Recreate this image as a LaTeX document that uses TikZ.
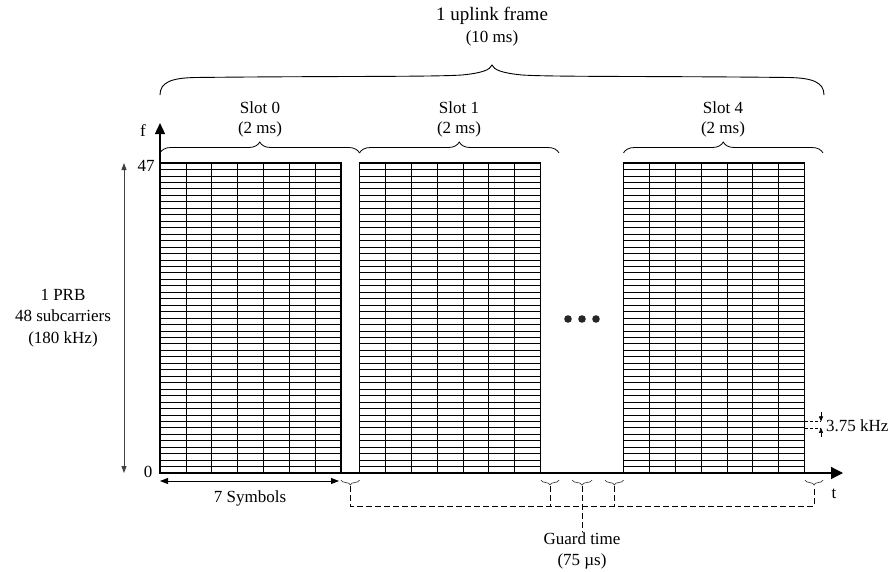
\documentclass[tikz,border=0pt]{standalone}
\usepackage{fontspec}
\setmainfont{Liberation Serif}
\usetikzlibrary{arrows.meta,decorations.pathreplacing}
\begin{document}
\begin{tikzpicture}[x=1pt,y=-1pt,
  lbl/.style={font=\fontsize{17}{21.7}\selectfont, inner sep=0pt, align=center},
  biglbl/.style={font=\fontsize{19}{22}\selectfont, inner sep=0pt, align=center},
  gridline/.style={line width=0.7pt},
  gridframe/.style={line width=1.8pt},
  axis/.style={line width=1.3pt},
  slotbrace/.style={line width=0.8pt, decorate, decoration={brace, amplitude=11pt}},
  framebrace/.style={line width=0.9pt},
  guardbrace/.style={line width=0.7pt, black!75, decorate, decoration={brace, amplitude=5pt, mirror}},
  guard/.style={line width=0.8pt, dash pattern=on 6pt off 3pt},
  dimarrow/.style={line width=0.9pt, {Triangle[length=8pt,width=6pt]}-{Triangle[length=8pt,width=6pt]}},
]
\useasboundingbox (0,0) rectangle (892,571);

% resource grids
\foreach \gx in {160,359.5,623.5} {
  \foreach \k in {1,...,47} \draw[gridline] (\gx,163+\k*310/48) -- ++(181,0);
  \foreach \k in {1,...,6} \draw[gridline] (\gx+\k*181/7,163) -- ++(0,310);
  \draw[gridframe] (\gx,163) rectangle ++(181,310);
}

% axes
\coordinate (O) at (160,473);
\coordinate (ftip) at (160,123);
\coordinate (ttip) at (843,473);
\draw[axis,-{Triangle[length=11pt,width=10pt]}] (O) -- (ftip);
\draw[axis,-{Triangle[length=12pt,width=12pt]}] (O) -- (ttip);
\node[lbl] (flab) at (143,131) {f};
\node[lbl] (tlab) at (834,494) {t};
\node[lbl] (n47) at (146,166) {47};
\node[lbl] (n0) at (148,472) {0};

% frame brace
\draw[framebrace] (160,95) .. controls (160,82) and (172,78) .. (195,77.5)
  .. controls (330,76) and (430,77) .. (462,75)
  .. controls (482,73) and (490,70) .. (492,65)
  .. controls (494,70) and (502,73) .. (522,75)
  .. controls (554,77) and (654,76) .. (789,77.5)
  .. controls (812,78) and (824,82) .. (824,95);
\node[biglbl] (frame) at (492,16) {1 uplink frame};
\node[lbl] (framems) at (492,38) {(10 ms)};

% slot braces
\coordinate (s0a) at (160,153); \coordinate (s0b) at (359.5,153);
\coordinate (s1b) at (559,153);
\coordinate (s4a) at (623.5,153); \coordinate (s4b) at (823,153);
\draw[slotbrace] (s0a) -- (s0b);
\draw[slotbrace] (s0b) -- (s1b);
\draw[slotbrace] (s4a) -- (s4b);
\node[lbl] (slot0) at (260,108) {Slot 0};
\node[lbl] (slot0ms) at (260,129) {(2 ms)};
\node[lbl] (slot1) at (459,108) {Slot 1};
\node[lbl] (slot1ms) at (459,129) {(2 ms)};
\node[lbl] (slot4) at (723,108) {Slot 4};
\node[lbl] (slot4ms) at (723,129) {(2 ms)};

% ellipsis
\foreach \dx in {568,582,596} \fill[black!85] (\dx,319) circle (3.8pt);

% PRB dimension
\coordinate (prbtop) at (124,163);
\coordinate (prbbot) at (124,473);
\draw[line width=0.9pt, black!75, {Triangle[length=7pt,width=5pt]}-{Triangle[length=7pt,width=5pt]}] (prbtop) -- (prbbot);
\node[lbl] (prb) at (63,318) {1 PRB\\48 subcarriers\\(180 kHz)};

% 7 symbols
\coordinate (sya) at (160,481);
\coordinate (syb) at (339,481);
\draw[dimarrow] (sya) -- (syb);
\node[lbl] (sym) at (250,498) {7 Symbols};

% subcarrier spacing
\coordinate (ka) at (805,421.4); \coordinate (kb) at (805,427.9);
\coordinate (kae) at (821,421.4); \coordinate (kbe) at (821,427.9);
\coordinate (kat) at (821,412); \coordinate (kbt) at (821,437);
\draw[line width=0.6pt, dash pattern=on 3pt off 2pt] (ka) -- (kae) (kb) -- (kbe);
\draw[line width=0.6pt, -{Triangle[length=5pt,width=4pt]}] (kat) -- (kae);
\draw[line width=0.6pt, -{Triangle[length=5pt,width=4pt]}] (kbt) -- (kbe);
\node[lbl, anchor=west] (khz) at (826,426) {3.75 kHz};

% guard time braces
\foreach \a/\b/\n in {341/359.5/1, 541/559/2, 572/592/3, 605/623.5/4, 805/823/5} {
  \draw[guardbrace] (\a,480) -- (\b,480);
  \coordinate (g\n) at ({(\a+\b)/2},486);
  \coordinate (h\n) at ({(\a+\b)/2},506);
}
\node[lbl] (guardlab) at (582,551) {Guard time\\(75 µs)};
\draw[guard] (g1) -- (h1) -- (h5) -- (g5);
\draw[guard] (g2) -- (h2);
\draw[guard] (g4) -- (h4);
\draw[guard] (g3) -- (guardlab.north);
\end{tikzpicture}
\end{document}
